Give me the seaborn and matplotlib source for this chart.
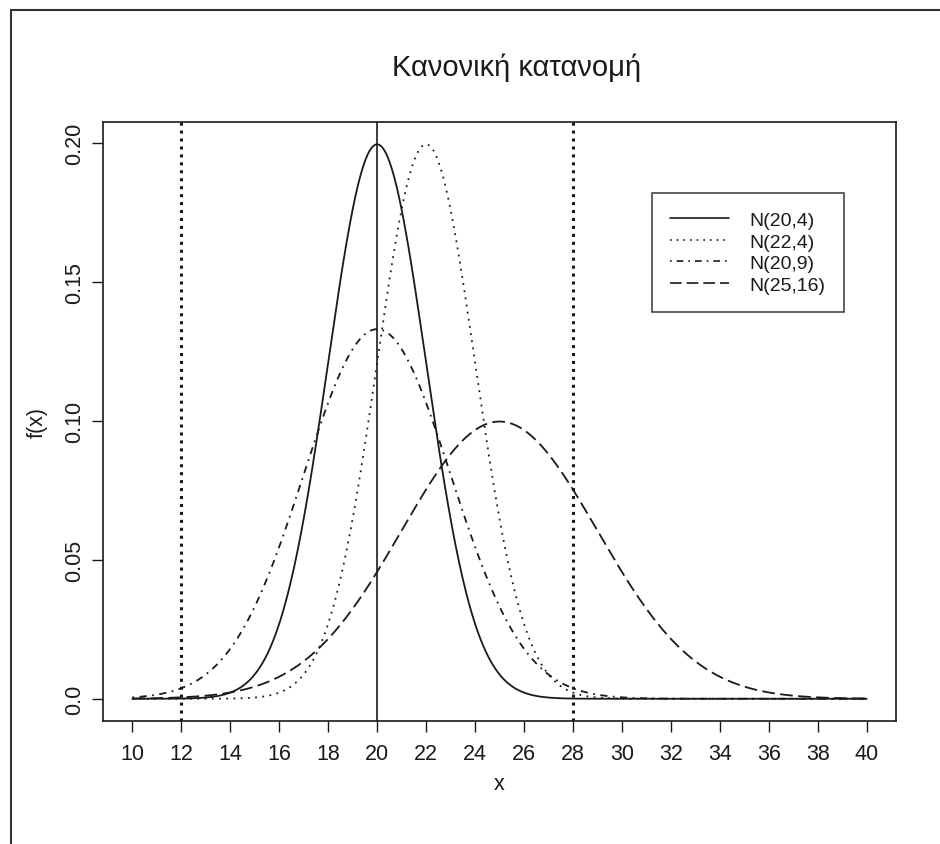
import numpy as np
import pandas as pd
import matplotlib
matplotlib.use("Agg")
import matplotlib.pyplot as plt
from matplotlib.lines import Line2D
import seaborn as sns

# Normal distributions N(mean, variance)
means = [20, 22, 20, 25]
variances = [4, 4, 9, 16]
labels = ["N(20,4)", "N(22,4)", "N(20,9)", "N(25,16)"]
x_range = [10, 40]
vlines_dotted = [12, 28]
vline_solid = [20]
x_ticks = list(range(10, 41, 2))
y_ticks = [0.0, 0.05, 0.10, 0.15, 0.20]
y_ticklabels = ["0.0", "0.05", "0.10", "0.15", "0.20"]

sns.set_style("ticks")
plt.rcParams["font.family"] = ["Liberation Sans", "DejaVu Sans"]

x = np.linspace(x_range[0], x_range[1], 601)
frames = []
for m, v, lab in zip(means, variances, labels):
    sd = np.sqrt(v)
    y = np.exp(-(x - m) ** 2 / (2 * v)) / (sd * np.sqrt(2 * np.pi))
    frames.append(pd.DataFrame({"x": x, "f": y, "dist": lab}))
df = pd.concat(frames, ignore_index=True)

fig = plt.figure(figsize=(9.4, 8.45), dpi=100)
ax = fig.add_axes([103 / 940, 1 - 722 / 845, (896 - 103) / 940, (722 - 123) / 845])

ink = "#1a1a1a"
dash_styles = {
    "N(20,4)": "",
    "N(22,4)": (1, 3),
    "N(20,9)": (1, 3, 4, 3),
    "N(25,16)": (7, 3),
}
sns.lineplot(data=df, x="x", y="f", hue="dist", style="dist",
             palette={lab: ink for lab in labels}, dashes=dash_styles,
             linewidth=1.3, ax=ax, legend=False)

for xv in vlines_dotted:
    ax.axvline(xv, color=ink, lw=2.2, linestyle=(0, (1, 1.6)))
for xv in vline_solid:
    ax.axvline(xv, color=ink, lw=1.2)

ax.set_xlim(8.8, 41.2)
ax.set_ylim(-0.008, 0.2075)
ax.set_xticks(x_ticks)
ax.set_xticklabels([str(t) for t in x_ticks])
ax.set_yticks(y_ticks)
ax.set_yticklabels(y_ticklabels, rotation=90, va="center")
ax.tick_params(axis="both", labelsize=15.5, length=8, width=1, colors=ink)
ax.tick_params(axis="x", pad=8)
ax.tick_params(axis="y", pad=5)
for sp in ax.spines.values():
    sp.set_visible(True)
    sp.set_color(ink)
    sp.set_linewidth(1.2)

ax.set_xlabel("x", fontsize=15.5, color=ink, labelpad=6)
ax.set_ylabel("f(x)", fontsize=15.5, color=ink, labelpad=12)
fig.text(517 / 940, 1 - 68 / 845, "Κανονική κατανομή", ha="center", va="center",
         fontsize=21, color=ink)

handles = [Line2D([0], [0], color=ink, lw=1.2,
                  linestyle="-" if dash_styles[lab] == "" else (0, dash_styles[lab]))
           for lab in labels]
leg = ax.legend(handles, labels, loc="upper left",
                bbox_to_anchor=((652 - 103) / 793, 1 - (194 - 123) / 599),
                fontsize=14, frameon=True, fancybox=False, handlelength=3.0,
                handletextpad=1.05, labelspacing=0.2, borderpad=0.95,
                borderaxespad=0)
leg.get_frame().set_edgecolor(ink)
leg.get_frame().set_linewidth(1.2)
for t in leg.get_texts():
    t.set_color(ink)

# outer frame along the top and left edges
fig.add_artist(Line2D([11 / 940, 11 / 940], [0, 1 - 11 / 845], color="#333333",
                      lw=1.5, transform=fig.transFigure))
fig.add_artist(Line2D([11 / 940, 1], [1 - 11 / 845, 1 - 11 / 845], color="#333333",
                      lw=1.5, transform=fig.transFigure))

fig.savefig("out.png", dpi=100, facecolor="white")
